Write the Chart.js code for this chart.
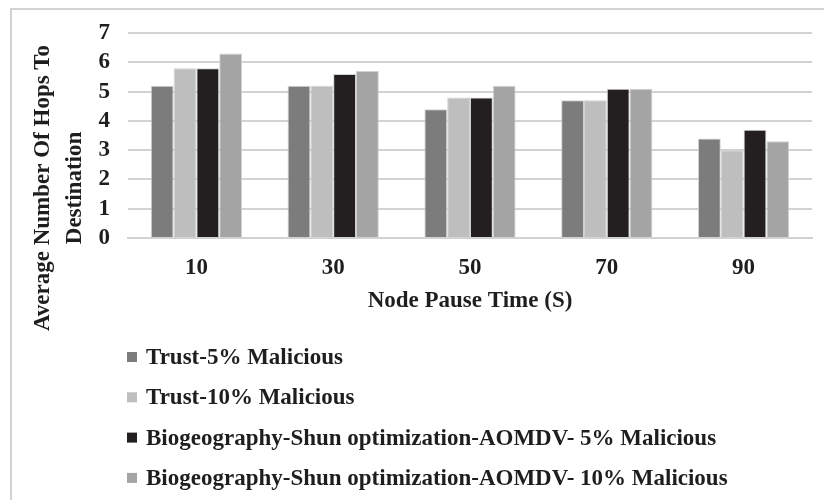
<!DOCTYPE html>
<html>
<head>
<meta charset="utf-8">
<script src="https://cdn.jsdelivr.net/npm/chart.js@4/dist/chart.umd.min.js"></script>
<style>
  html, body { margin: 0; padding: 0; background: #fff; }
  #wrap { position: relative; width: 824px; height: 500px; overflow: hidden; }
  #frame { position: absolute; left: 10px; top: 8px; width: 900px; height: 600px;
           border-left: 2px solid #d2d2d2; border-top: 2px solid #d2d2d2; }
  canvas { position: absolute; left: 0; top: 0; }
</style>
</head>
<body>
<div id="wrap">
  <div id="frame"></div>
  <canvas id="c" width="824" height="500"></canvas>
</div>
<script>
const categories = ['10', '30', '50', '70', '90'];
const seriesNames = [
  'Trust-5% Malicious',
  'Trust-10% Malicious',
  'Biogeography-Shun optimization-AOMDV- 5% Malicious',
  'Biogeography-Shun optimization-AOMDV- 10% Malicious'
];
const trust5 = [5.2, 5.2, 4.4, 4.7, 3.4];
const trust10 = [5.8, 5.2, 4.8, 4.7, 3.0];
const bso5 = [5.8, 5.6, 4.8, 5.1, 3.7];
const bso10 = [6.3, 5.7, 5.2, 5.1, 3.3];
const seriesColors = ['#7c7c7c', '#bebebe', '#231f20', '#a4a4a4'];
const yTitleLines = ['Average Number Of Hops To', 'Destination'];
const xTitle = 'Node Pause Time (S)';

const FONT = '"Liberation Serif", "Times New Roman", serif';
const TEXT = '#1e1e1e';

// Rotated two-line y-axis title
const yTitlePlugin = {
  id: 'yTitle',
  afterDraw(chart) {
    const ctx = chart.ctx;
    ctx.save();
    ctx.font = 'bold 23px ' + FONT;
    ctx.fillStyle = TEXT;
    ctx.textAlign = 'center';
    ctx.textBaseline = 'middle';
    const xs = [43, 75];
    yTitleLines.forEach((line, i) => {
      ctx.save();
      ctx.translate(xs[i], 188);
      ctx.rotate(-Math.PI / 2);
      ctx.fillText(line, 0, 0);
      ctx.restore();
    });
    ctx.restore();
  }
};

// Vertical legend list under the plot
const listLegendPlugin = {
  id: 'listLegend',
  afterDraw(chart) {
    const ctx = chart.ctx;
    ctx.save();
    ctx.font = 'bold 23px ' + FONT;
    ctx.textBaseline = 'middle';
    ctx.textAlign = 'left';
    const y0 = 357, step = 40.3;
    chart.data.datasets.forEach((ds, i) => {
      const y = y0 + i * step;
      ctx.fillStyle = ds.backgroundColor;
      ctx.fillRect(127, y - 5, 10, 10);
      ctx.fillStyle = TEXT;
      ctx.fillText(ds.label, 146, y + 1);
    });
    ctx.restore();
  }
};

const valueSets = [trust5, trust10, bso5, bso10];

new Chart(document.getElementById('c'), {
  type: 'bar',
  data: {
    labels: categories,
    datasets: valueSets.map((vals, i) => ({
      label: seriesNames[i],
      data: vals,
      backgroundColor: seriesColors[i],
      borderColor: 'rgba(205,205,205,0.9)',
      borderWidth: 1,
      categoryPercentage: 0.667,
      barPercentage: 1.0
    }))
  },
  options: {
    responsive: false,
    animation: false,
    layout: { padding: { top: 33, right: 12, bottom: 182, left: 0 } },
    plugins: { legend: { display: false }, tooltip: { enabled: false } },
    scales: {
      x: {
        grid: { display: false, drawTicks: false },
        border: { display: true, color: '#d2d2d2', width: 2 },
        ticks: { color: TEXT, padding: 16, font: { family: FONT, size: 23, weight: 'bold' } },
        title: { display: true, text: xTitle, color: TEXT, padding: { top: 6, bottom: 3 },
                 font: { family: FONT, size: 23, weight: 'bold' } },
        afterFit(scale) { scale.height = 80; }
      },
      y: {
        min: 0, max: 7,
        grid: { color: '#d2d2d2', lineWidth: 2, drawTicks: false },
        border: { display: false },
        ticks: { stepSize: 1, autoSkip: false, color: TEXT, padding: 18,
                 font: { family: FONT, size: 23, weight: 'bold' } },
        afterFit(scale) { scale.width = 128; }
      }
    }
  },
  plugins: [yTitlePlugin, listLegendPlugin]
});
</script>
</body>
</html>
